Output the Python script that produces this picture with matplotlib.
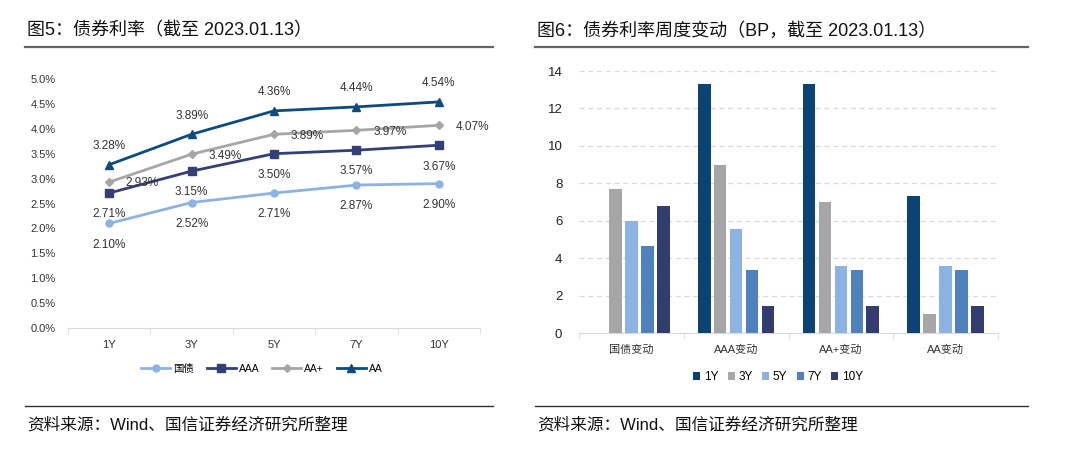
import numpy as np
import matplotlib
matplotlib.use('Agg')
import matplotlib.pyplot as plt
from matplotlib.ticker import PercentFormatter

plt.rcParams['font.family'] = ['Liberation Sans', 'Noto Sans CJK SC', 'DejaVu Sans']

# left chart: yields (%)
tenors = ['1Y', '3Y', '5Y', '7Y', '10Y']
gov = [2.10, 2.52, 2.71, 2.87, 2.90]
aaa = [2.71, 3.15, 3.50, 3.57, 3.67]
aa_plus = [2.93, 3.49, 3.89, 3.97, 4.07]
aa = [3.28, 3.89, 4.36, 4.44, 4.54]

# right chart: weekly change (BP)
groups = ['国债变动', 'AAA变动', 'AA+变动', 'AA变动']
chg_1y = [0, 13.3, 13.3, 7.3]
chg_3y = [7.7, 9.0, 7.0, 1.0]
chg_5y = [6.0, 5.55, 3.57, 3.57]
chg_7y = [4.67, 3.39, 3.39, 3.39]
chg_10y = [6.8, 1.45, 1.45, 1.45]

W, H = 1080, 458
fig = plt.figure(figsize=(W / 100, H / 100), dpi=100)


def px(x0, y0, x1, y1):
    # pixel box (top-left origin) -> figure fraction rect
    return [x0 / W, 1 - y1 / H, (x1 - x0) / W, (y1 - y0) / H]


# titles, rules and footers
fig.text(27 / W, 1 - 31 / H, '图5：债券利率（截至 2023.01.13）', fontsize=13, va='center', color='#111111')
fig.text(537 / W, 1 - 31 / H, '图6：债券利率周度变动（BP，截至 2023.01.13）', fontsize=13, va='center', color='#111111')
for x0, x1 in [(25, 493), (535, 1028)]:
    fig.add_artist(plt.Line2D([x0 / W, x1 / W], [1 - 47 / H] * 2, color='#666666', lw=1.6))
    fig.add_artist(plt.Line2D([x0 / W, x1 / W], [1 - 406 / H] * 2, color='#333333', lw=1.0))
    fig.text((x0 + 2) / W, 1 - 425 / H, '资料来源：Wind、国信证券经济研究所整理', fontsize=12, va='center', color='#111111')

# ---- line chart ----
ax1 = fig.add_axes(px(68, 79, 480, 328))
x = np.arange(len(tenors))
series = [
    ('国债', gov, '#8db3e2', 'o', 5, 'below'),
    ('AAA', aaa, '#333f77', 's', 5.5, 'below'),
    ('AA+', aa_plus, '#a6a6a6', 'D', 4, 'right'),
    ('AA', aa, '#0d4a7e', '^', 6, 'above'),
]
for name, vals, col, mk, ms, pos in series:
    ax1.plot(x, np.array(vals) / 100, color=col, marker=mk, markersize=ms, lw=2, label=name)
    for xi, v in zip(x, vals):
        if pos == 'below':
            off, ha, va = (0, -11), 'center', 'top'
        elif pos == 'above':
            off, ha, va = (0, 9), 'center', 'bottom'
        else:
            off, ha, va = (12, -1), 'left', 'center'
        ax1.annotate(f'{v:.2f}%', (xi, v / 100), xytext=off, textcoords='offset points',
                     ha=ha, va=va, fontsize=8.5, color='#333333')

ax1.set_xlim(-0.5, 4.5)
ax1.set_ylim(0, 0.05)
ax1.set_yticks(np.arange(0, 0.0501, 0.005))
ax1.yaxis.set_major_formatter(PercentFormatter(1.0, decimals=1))
ax1.set_xticks(x)
ax1.set_xticklabels(tenors)
ax1.set_xticks(np.arange(-0.5, 4.6, 1), minor=True)
ax1.tick_params(axis='x', which='major', length=0, pad=9, labelsize=8, colors='#333333')
ax1.tick_params(axis='x', which='minor', length=4, color='#d9d9d9')
ax1.tick_params(axis='y', length=0, pad=9, labelsize=8, colors='#333333')
for s in ['top', 'right', 'left']:
    ax1.spines[s].set_visible(False)
ax1.spines['bottom'].set_color('#d9d9d9')
fig.legend(*ax1.get_legend_handles_labels(), loc='center', bbox_to_anchor=(262 / W, 1 - 369 / H),
           ncol=4, frameon=False, fontsize=7.5, handlelength=2.8, columnspacing=1.2, handletextpad=0.3)

# ---- bar chart ----
ax2 = fig.add_axes(px(579, 71, 998, 333))
g = np.arange(len(groups))
bar_sets = [
    ('1Y', chg_1y, '#0b4474'),
    ('3Y', chg_3y, '#a6a6a6'),
    ('5Y', chg_5y, '#8db3e2'),
    ('7Y', chg_7y, '#4f81bd'),
    ('10Y', chg_10y, '#333c6e'),
]
pitch = 0.152
for i, (name, vals, col) in enumerate(bar_sets):
    ax2.bar(g + (i - 2) * pitch, vals, width=0.12, color=col, label=name, zorder=3)
ax2.set_xlim(-0.5, 3.5)
ax2.set_ylim(0, 14)
ax2.set_yticks(np.arange(0, 15, 2))
ax2.yaxis.grid(True, linestyle=(0, (4, 3)), color='#d9d9d9', lw=0.9, zorder=0)
ax2.set_xticks(g)
ax2.set_xticklabels(groups)
ax2.set_xticks(np.arange(-0.5, 3.6, 1), minor=True)
ax2.tick_params(axis='x', which='major', length=0, pad=8, labelsize=8, colors='#333333')
ax2.tick_params(axis='x', which='minor', length=4, color='#d9d9d9')
ax2.tick_params(axis='y', length=0, pad=12, labelsize=9.5, colors='#222222')
for s in ['top', 'right', 'left']:
    ax2.spines[s].set_visible(False)
ax2.spines['bottom'].set_color('#d9d9d9')
fig.legend(*ax2.get_legend_handles_labels(), loc='center', bbox_to_anchor=(778 / W, 1 - 377 / H),
           ncol=5, frameon=False, fontsize=8.5, handlelength=0.6, handleheight=0.6,
           columnspacing=0.8, handletextpad=0.3)

fig.savefig('out.png', dpi=100)
